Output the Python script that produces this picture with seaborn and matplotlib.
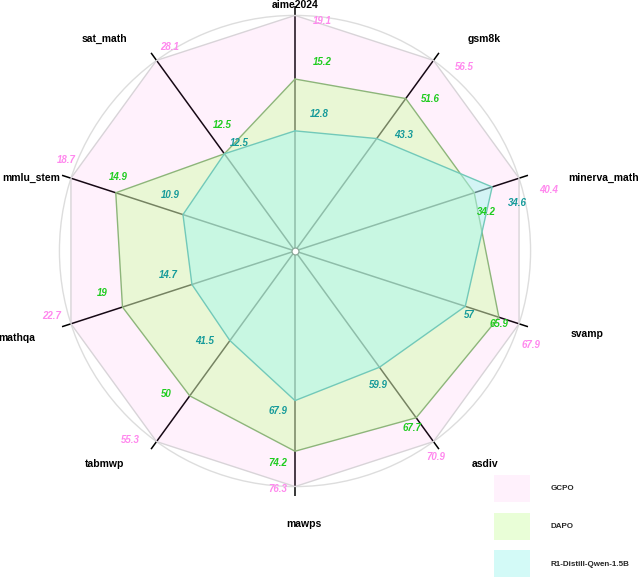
import numpy as np
import pandas as pd
import seaborn as sns
import matplotlib
matplotlib.use("Agg")
import matplotlib.pyplot as plt
from matplotlib.patches import Patch

# Benchmarks, clockwise from the top
benchmarks = ['aime2024', 'gsm8k', 'minerva_math', 'svamp', 'asdiv',
              'mawps', 'tabmwp', 'mathqa', 'mmlu_stem', 'sat_math']
models = ['GCPO', 'DAPO', 'R1-Distill-Qwen-1.5B']

# Scores shown on the chart
gcpo = [19.1, 56.5, 40.4, 67.9, 70.9, 76.3, 55.3, 22.7, 18.7, 28.1]
dapo = [15.2, 51.6, 34.2, 65.9, 67.7, 74.2, 50, 19, 14.9, 12.5]
r1 = [12.8, 43.3, 34.6, 57, 59.9, 67.9, 41.5, 14.7, 10.9, 12.5]

# Radial level of each vertex (each axis scaled on its own, outer ring = 1)
gcpo_level = [1.0, 1.0, 1.0, 1.0, 1.0, 1.0, 1.0, 1.0, 1.0, 1.0]
dapo_level = [0.73, 0.80, 0.80, 0.91, 0.875, 0.85, 0.76, 0.77, 0.80, 0.51]
r1_level = [0.51, 0.59, 0.88, 0.76, 0.61, 0.635, 0.47, 0.46, 0.50, 0.51]

# Styles
fill_colors = ['#ff66e6', '#d5feb0', '#a8f7f0']
fill_alpha = [0.09, 0.5, 0.5]
edge_colors = ['#d8d4d8', '#8db57a', '#72c9b9']
text_colors = ['#ff88ee', '#1fcc1f', '#159a9a']

# Label offsets in pixels from each vertex
gcpo_off = [(27, -6), (31, -7), (30, -12), (12, -21), (2, -15),
            (-17, -2), (-26, 2), (-19, 8), (-5, 18), (13, 13)]
dapo_off = [(27, 17), (25, 0), (12, -19), (0, -7), (-4, -10),
            (-17, -12), (-23, 2), (-20, 14), (3, 16), (-2, 29)]
r1_off = [(24, 17), (27, 4), (25, -16), (4, -9), (-1, -18),
          (-17, -10), (-25, 0), (-24, 9), (-13, 20), (15, 11)]
name_off = [(0, 10), (51, 21), (85, 0), (68, -10), (52, -22),
            (9, -37), (-52, -22), (-54, -14), (-40, 0), (-52, 21)]

sns.set_theme(style="white")
plt.rcParams['font.family'] = ['Liberation Sans', 'DejaVu Sans']

fig = plt.figure(figsize=(6.4, 5.78), dpi=100)
ax = fig.add_axes([50 / 640, 82 / 578, 490 / 640, 490 / 578], projection='polar')
ax.set_theta_zero_location('N')
ax.set_theta_direction(-1)
ax.patch.set_alpha(0)
ax.spines['polar'].set_visible(False)

n = len(benchmarks)
theta = np.arange(n) * 2 * np.pi / n
rmax = 1.04

# Spokes
for t in theta:
    ax.plot([t, t], [0, rmax], color='black', lw=1.1, zorder=1)

scores = [gcpo, dapo, r1]
levels = [gcpo_level, dapo_level, r1_level]
offsets = [gcpo_off, dapo_off, r1_off]

for i, model in enumerate(models):
    df = pd.DataFrame({'theta': np.append(theta, theta[0] + 2 * np.pi),
                       'level': levels[i] + levels[i][:1]})
    ax.fill(df['theta'], df['level'], color=fill_colors[i],
            alpha=fill_alpha[i], lw=0, zorder=2 + i)
    sns.lineplot(x=df['theta'].values, y=df['level'].values, sort=False,
                 estimator=None, color=edge_colors[i], lw=1,
                 zorder=2.5 + i, ax=ax)
    for t, lv, v, off in zip(theta, levels[i], scores[i], offsets[i]):
        ax.annotate(f"{v:g}", xy=(t, lv), xytext=off,
                    textcoords='offset pixels', ha='center', va='center',
                    fontsize=7, fontweight='bold', fontstyle='italic',
                    color=text_colors[i], zorder=10)

# Centre marker
ax.plot([0], [0], 'o', ms=5, mfc='white', mec='#8aa898', mew=0.9, zorder=8)

# Benchmark names
for t, name, off in zip(theta, benchmarks, name_off):
    ax.annotate(name, xy=(t, 1.0), xytext=off, textcoords='offset pixels',
                ha='center', va='center', fontsize=7.5, fontweight='bold',
                color='black')

ax.set_ylim(0, rmax)
ax.set_xticks([])
ax.set_yticks([1.0])
ax.set_yticklabels([])
ax.xaxis.grid(False)
ax.yaxis.grid(True, color='#dddddd', lw=1)
ax.set_xlabel('')
ax.set_ylabel('')

handles = [Patch(facecolor=fill_colors[i], alpha=fill_alpha[i], edgecolor='none')
           for i in range(len(models))]
fig.legend(handles, models, loc='upper left',
           bbox_to_anchor=(494 / 640, 1 - 475 / 578), frameon=False,
           prop={'weight': 'bold', 'size': 5.8},
           handlelength=4.45, handleheight=4.75, labelspacing=1.35,
           handletextpad=2.6, borderpad=0, borderaxespad=0)

fig.savefig('out.png', dpi=100)
